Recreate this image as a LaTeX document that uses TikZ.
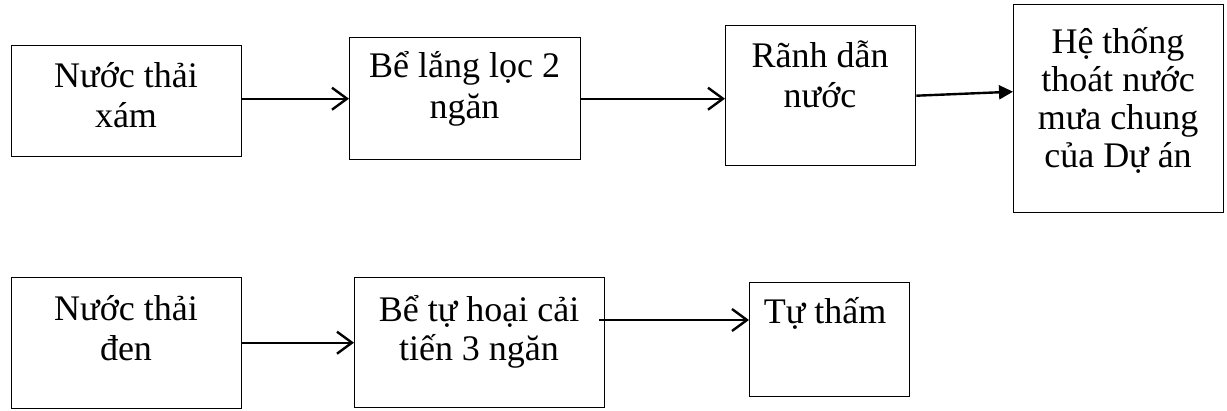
\documentclass[tikz,border=0pt]{standalone}
\usepackage{fontspec}
\setmainfont{Liberation Serif}
\usetikzlibrary{arrows.meta}
\newcommand{\mylines}[2]{{\fontsize{36}{#1}\selectfont\begin{tabular}[t]{@{}c@{}}#2\end{tabular}}}
\tikzset{
  box/.style={draw, line width=1.4pt, anchor=north west, inner sep=0pt},
  txt/.style={anchor=base, inner sep=0pt},
  openarr/.style={line width=2.4pt, -{Straight Barb[length=15pt,width=22pt,line width=2.4pt]}},
  fillarr/.style={line width=2.4pt, -{Triangle[length=14pt,width=14pt]}}
}
\begin{document}
\begin{tikzpicture}[x=1pt,y=-1pt]
\useasboundingbox (0,0) rectangle (1227,410);
% boxes
\node[box, minimum width=230pt, minimum height=111pt] (b1) at (11,45) {};
\node[box, minimum width=231pt, minimum height=122pt] (b2) at (349,37) {};
\node[box, minimum width=190pt, minimum height=140pt] (b3) at (725,25) {};
\node[box, minimum width=210pt, minimum height=208pt] (b4) at (1013,4) {};
\node[box, minimum width=230pt, minimum height=131pt] (b5) at (11,277) {};
\node[box, minimum width=250pt, minimum height=130pt] (b6) at (354,277) {};
\node[box, minimum width=160pt, minimum height=114pt] (b7) at (749,282) {};
% texts
\node[txt] (t1) at (126,87) {\mylines{40.5}{Nước thải\\xám}};
\node[txt] (t2) at (464.5,77) {\mylines{41}{Bể lắng lọc 2\\ngăn}};
\node[txt] (t3) at (820,67) {\mylines{40}{Rãnh dẫn\\nước}};
\node[txt] (t4) at (1118,53) {\mylines{38}{Hệ thống\\thoát nước\\mưa chung\\của Dự án}};
\node[txt] (t5) at (126,320) {\mylines{40}{Nước thải\\đen}};
\node[txt] (t6) at (479,321) {\mylines{39}{Bể tự hoại cải\\tiến 3 ngăn}};
\node[txt] (t7) at (825,323) {\mylines{40}{Tự thấm}};
% connectors
\draw[openarr] (b1.east |- b2.west) -- (b2.west);
\draw[openarr] (b2.east) -- (b2.east -| b3.west);
\draw[fillarr] (b3.east) -- ([yshift=17pt]b4.west);
\draw[openarr] (b5.east |- b6.west) -- (b6.west);
\coordinate (a5s) at (599,320);
\draw[openarr] (a5s) -- (a5s -| b7.west);
\end{tikzpicture}
\end{document}
